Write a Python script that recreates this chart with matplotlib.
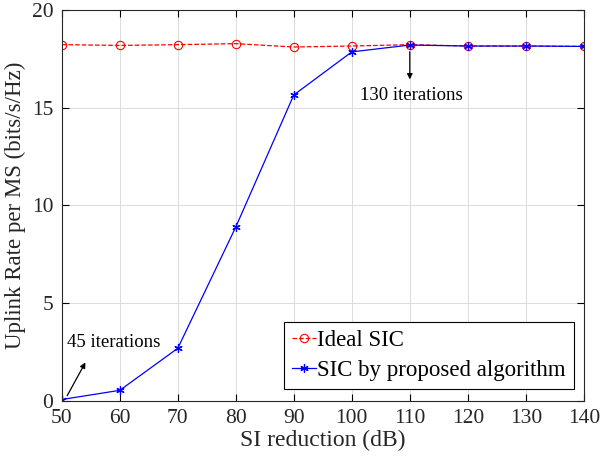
import matplotlib
matplotlib.use("Agg")
import matplotlib.pyplot as plt
import numpy as np

plt.rcParams['font.family'] = ['Liberation Serif', 'DejaVu Serif']

si_reduction = [50, 60, 70, 80, 90, 100, 110, 120, 130, 140]
ideal_sic = [18.22, 18.18, 18.22, 18.27, 18.10, 18.15, 18.22, 18.15, 18.15, 18.13]
proposed_sic = [0.08, 0.55, 2.70, 8.90, 15.65, 17.85, 18.20, 18.15, 18.15, 18.13]

fig = plt.figure(figsize=(6, 4.68), dpi=100)
ax = fig.add_axes([0.103, 0.143, 0.870, 0.836])

ax.plot(si_reduction, ideal_sic, 'r--o', markerfacecolor='none', markersize=6,
        linewidth=0.9, markeredgewidth=0.8, label='Ideal SIC')
ax.plot(si_reduction, proposed_sic, 'b-', marker=(6, 2, 0), markersize=6,
        linewidth=0.9, markeredgewidth=0.9, label='SIC by proposed algorithm')

ax.set_xlim(50, 140)
ax.set_ylim(0, 20)
ax.set_xticks(np.arange(50, 141, 10))
ax.set_yticks([0, 5, 10, 15, 20])
ax.grid(True, color='#dcdcdc', linewidth=0.7)
ax.tick_params(direction='in', top=True, right=True, labelsize=15.5, length=5,
               labelcolor='#262626')
ax.tick_params(axis='x', pad=6)
ax.tick_params(axis='y', pad=6)
for s in ax.spines.values():
    s.set_color('#262626')
    s.set_linewidth(0.8)

ax.set_xlabel('SI reduction (dB)', fontsize=17, labelpad=1, color='#262626')
ax.set_ylabel('Uplink Rate per MS (bits/s/Hz)', fontsize=16.5, labelpad=4, color='#262626')

ax.annotate('', xy=(54.3, 2.1), xytext=(50.7, 0.15),
            arrowprops=dict(arrowstyle='-|>', color='black', lw=0.9, mutation_scale=8))
ax.text(59.0, 3.0, '45 iterations', fontsize=13.5, ha='center', va='center')

ax.annotate('', xy=(110, 16.3), xytext=(110, 18.0),
            arrowprops=dict(arrowstyle='-|>', color='black', lw=0.9, mutation_scale=8))
ax.text(110.2, 15.6, '130 iterations', fontsize=13.5, ha='center', va='center')

leg = ax.legend(loc='lower right', bbox_to_anchor=(0.981, 0.031), fontsize=16.5,
                fancybox=False, edgecolor='black', framealpha=1,
                handlelength=1.05, handletextpad=0.05, borderpad=0.35,
                labelspacing=0.4, borderaxespad=0)
leg.get_frame().set_linewidth(0.8)

fig.savefig('out.png', dpi=100)
